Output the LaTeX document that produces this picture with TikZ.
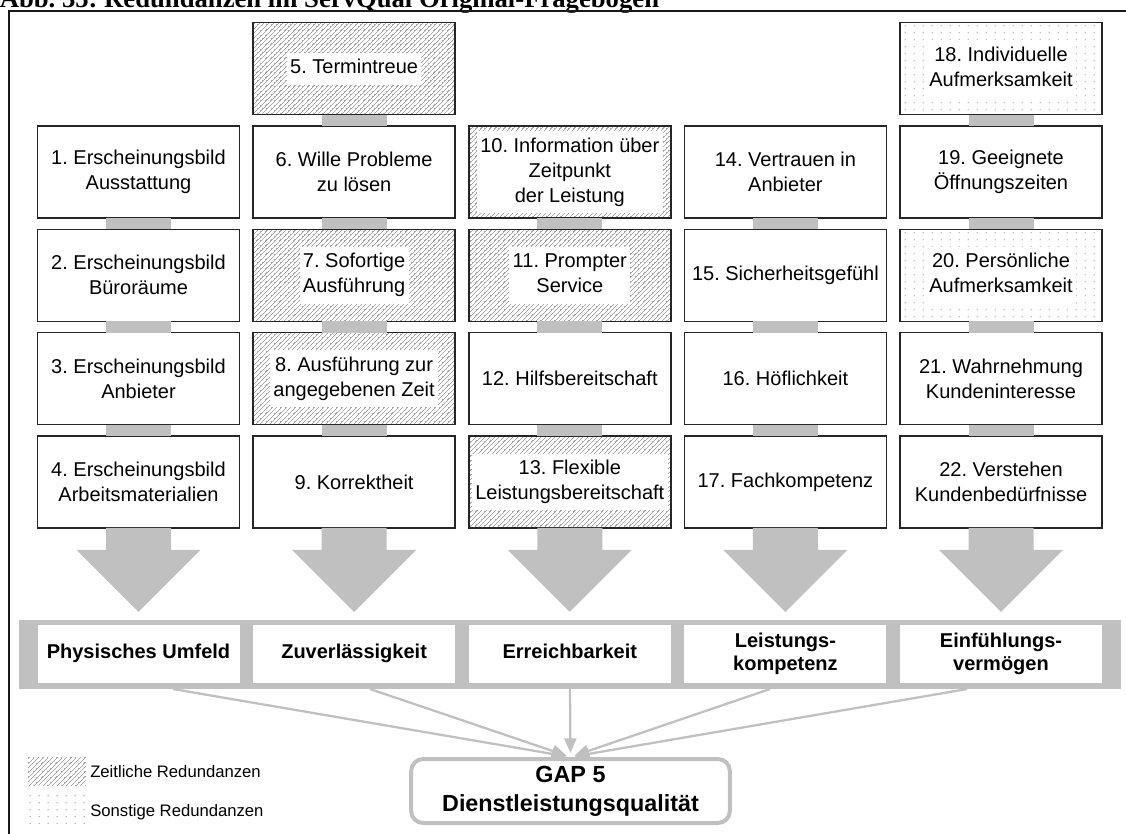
\documentclass[tikz,border=0pt]{standalone}
\usepackage{fontspec}
\setmainfont{Liberation Sans}
\newfontfamily\titlefont{Liberation Serif}
\usetikzlibrary{calc,patterns.meta,arrows.meta}
\frenchspacing

\definecolor{bargray}{RGB}{192,192,192}
\definecolor{hatchgray}{RGB}{168,168,168}
\definecolor{dotgray}{RGB}{165,165,165}

% diagonal hatching for temporal redundancies
\tikzdeclarepattern{
  name=timehatch, type=uncolored,
  bounding box={(-.5pt,-.5pt) and (4pt,4pt)},
  tile size={(3.5pt,3.5pt)},
  line width=.5pt,
  code={\draw (-.5pt,-.5pt) -- (4pt,4pt);}
}
% sparse dot grid for other redundancies
\tikzdeclarepattern{
  name=sparsedots, type=uncolored,
  bounding box={(0pt,0pt) and (6.5pt,5pt)},
  tile size={(6.5pt,5pt)},
  code={\fill (3.25pt,2.5pt) circle (.55pt);}
}

% text block on a white ground, used inside patterned boxes
\newcommand{\onwhite}[1]{{\setlength{\fboxsep}{2.5pt}\colorbox{white}{\begin{tabular}{@{}c@{}}#1\end{tabular}}}}

\tikzset{
  item/.style={draw=black!85, line width=1.1pt, minimum width=151.5pt,
    minimum height=69pt, inner sep=0pt, outer sep=0pt, align=center,
    font=\fontsize{15}{18.75}\selectfont},
  plainbox/.style={item, fill=white},
  timebox/.style={item, pattern=timehatch, pattern color=hatchgray},
  otherbox/.style={item, pattern=sparsedots, pattern color=dotgray},
  dimbox/.style={fill=white, minimum width=151.5pt, minimum height=43.5pt,
    inner sep=0pt, outer sep=0pt, align=center,
    font=\bfseries\fontsize{15}{17.25}\selectfont},
  gapbox/.style={draw=bargray, line width=3pt, rounded corners=9pt, fill=white,
    minimum width=239pt, minimum height=48pt, inner sep=0pt, outer sep=1.5pt,
    align=center, font=\bfseries\fontsize{17.5}{21.75}\selectfont},
  conn/.style={draw=bargray, line width=1.7pt, shorten >=3pt,
    -{Triangle[length=11pt,width=9pt]}},
  legpatch/.style={minimum width=42.75pt, minimum height=21pt, inner sep=0pt},
  legtext/.style={anchor=base west, inner sep=0pt, font=\fontsize{12.5}{15}\selectfont},
  frameline/.style={draw=black!90, line width=1.5pt}
}

\begin{document}
\begin{tikzpicture}[x=0.75pt,y=-0.75pt]
  \useasboundingbox (0,0) rectangle (1126,833);
  \fill[white] (0,0) rectangle (1126,833);

  % caption and frame
  \node[anchor=base west, inner sep=0pt,
        font=\titlefont\bfseries\fontsize{20}{24}\selectfont] (title) at (-0.5,7)
        {Abb. 35: Redundanzen im ServQual Original-Fragebogen};
  \draw[frameline] (8.5,840) |- (1130,10.5);

  % column 1: Physisches Umfeld
  \node[plainbox] (i1) at (138.5,172)   {1. Erscheinungsbild\\Ausstattung};
  \node[plainbox] (i2) at (138.5,275.3) {2. Erscheinungsbild\\Büroräume};
  \node[plainbox] (i3) at (138.5,378.6) {3. Erscheinungsbild\\Anbieter};
  \node[plainbox] (i4) at (138.5,481.9) {4. Erscheinungsbild\\Arbeitsmaterialien};

  % column 2: Zuverlässigkeit
  \node[timebox]  (i5) at (354.1,68.7)  {\onwhite{5. Termintreue}};
  \node[plainbox] (i6) at (354.1,172)   {6. Wille Probleme\\zu lösen};
  \node[timebox]  (i7) at (354.1,275.3) {\onwhite{7. Sofortige\\Ausführung}};
  \node[timebox]  (i8) at (354.1,378.6) {\onwhite{8. Ausführung zur\\angegebenen Zeit}};
  \node[plainbox] (i9) at (354.1,481.9) {9. Korrektheit};

  % column 3: Erreichbarkeit
  \node[timebox]  (i10) at (569.8,172)   {\onwhite{10. Information über\\Zeitpunkt\\der Leistung}};
  \node[timebox]  (i11) at (569.8,275.3) {\onwhite{11. Prompter\\Service}};
  \node[plainbox] (i12) at (569.8,378.6) {12. Hilfsbereitschaft};
  \node[timebox]  (i13) at (569.8,481.9) {\onwhite{13. Flexible\\Leistungsbereitschaft}};

  % column 4: Leistungskompetenz
  \node[plainbox] (i14) at (785.4,172)   {14. Vertrauen in\\Anbieter};
  \node[plainbox] (i15) at (785.4,275.3) {15. Sicherheitsgefühl};
  \node[plainbox] (i16) at (785.4,378.6) {16. Höflichkeit};
  \node[plainbox] (i17) at (785.4,481.9) {17. Fachkompetenz};

  % column 5: Einfühlungsvermögen
  \node[otherbox] (i18) at (1001,68.7)  {\onwhite{18. Individuelle\\Aufmerksamkeit}};
  \node[plainbox] (i19) at (1001,172)   {19. Geeignete\\Öffnungszeiten};
  \node[otherbox] (i20) at (1001,275.3) {\onwhite{20. Persönliche\\Aufmerksamkeit}};
  \node[plainbox] (i21) at (1001,378.6) {21. Wahrnehmung\\Kundeninteresse};
  \node[plainbox] (i22) at (1001,481.9) {22. Verstehen\\Kundenbedürfnisse};

  % grey links between stacked items
  \foreach \a/\b in {i1/i2,i2/i3,i3/i4,i5/i6,i6/i7,i7/i8,i8/i9,i10/i11,i11/i12,
                     i12/i13,i14/i15,i15/i16,i16/i17,i18/i19,i19/i20,i20/i21,i21/i22}
    \fill[bargray] ($(\a.south)+(-32.5,0)$) rectangle ($(\b.north)+(32.5,0)$);

  % block arrows down to the dimensions
  \foreach \a in {i4,i9,i13,i17,i22}
    \fill[bargray] ($(\a.south)+(-32.5,0)$) -- ($(\a.south)+(-32.5,22)$)
      -- ($(\a.south)+(-62,22)$) -- ($(\a.south)+(0,84)$)
      -- ($(\a.south)+(62,22)$) -- ($(\a.south)+(32.5,22)$)
      -- ($(\a.south)+(32.5,0)$) -- cycle;

  % band of dimensions
  \fill[bargray] (19,620) rectangle (1121,689);
  \node[dimbox] (d1) at (138.5,654) {\strut Physisches Umfeld};
  \node[dimbox] (d2) at (354.1,654) {\strut Zuverlässigkeit};
  \node[dimbox] (d3) at (569.8,654) {\strut Erreichbarkeit};
  \node[dimbox] (d4) at (785.4,654) {\strut Leistungs-\\\strut kompetenz};
  \node[dimbox] (d5) at (1001,654)  {\strut Einfühlungs-\\\strut vermögen};

  % overall quality
  \node[gapbox] (gap) at (570.5,791) {GAP 5\\Dienstleistungsqualität};

  \coordinate (s1) at (173,689);
  \coordinate (s2) at (370,689);
  \coordinate (s3) at (570,689);
  \coordinate (s4) at (770,689);
  \coordinate (s5) at (967,689);
  \foreach \s in {s1,s2,s3,s4,s5}
    \draw[conn] (\s) -- (gap.north);

  % legend
  \node[legpatch, pattern=timehatch, pattern color=hatchgray] (lz) at (56.5,771) {};
  \node[legtext] (lzt) at (90,777) {Zeitliche Redundanzen};
  \node[legpatch, pattern=sparsedots, pattern color=dotgray] (ls) at (56.5,809) {};
  \node[legtext] (lst) at (90,816) {Sonstige Redundanzen};
\end{tikzpicture}
\end{document}
